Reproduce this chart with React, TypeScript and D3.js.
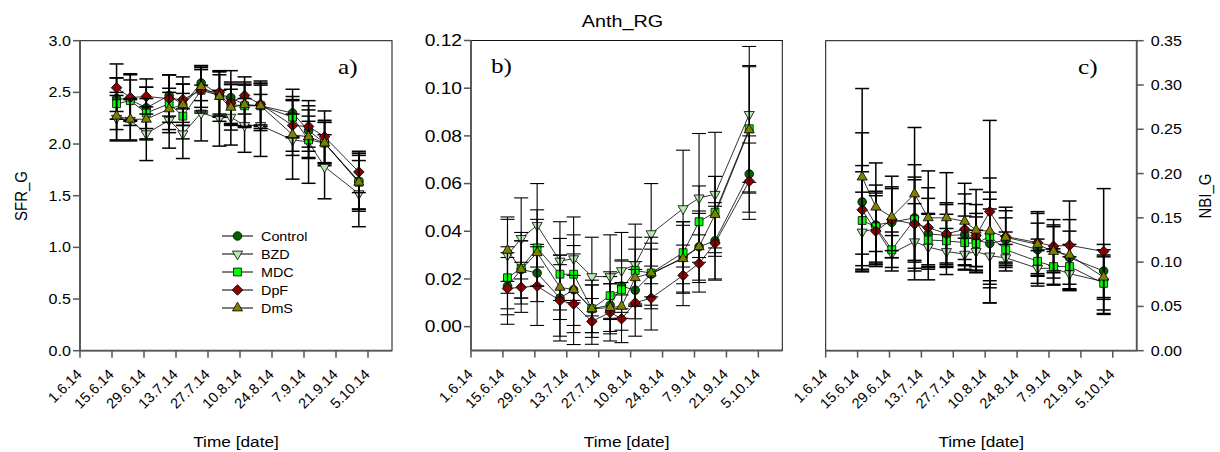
import React from 'react';
import * as d3 from 'd3';

// ---------- data ----------
const sampleDates = ['2014-06-17','2014-06-23','2014-06-30','2014-07-10','2014-07-16','2014-07-24','2014-08-01','2014-08-06','2014-08-12','2014-08-19','2014-09-02','2014-09-09','2014-09-16','2014-10-01'];
const tickDates = ['2014-06-01','2014-06-15','2014-06-29','2014-07-13','2014-07-27','2014-08-10','2014-08-24','2014-09-07','2014-09-21','2014-10-05'];
const tickLabels = ['1.6.14','15.6.14','29.6.14','13.7.14','27.7.14','10.8.14','24.8.14','7.9.14','21.9.14','5.10.14'];
const xDomain = ['2014-06-01T00:00','2014-10-15T12:00'];

const seriesNames = ['Control','BZD','MDC','DpF','DmS'];

// SFR_G (panel a)
const sfrControl = [2.44,2.43,2.35,2.47,2.38,2.59,2.48,2.45,2.38,2.37,2.30,2.13,2.01,1.64];
const sfrBZD     = [2.25,2.23,2.10,2.23,2.10,2.30,2.25,2.26,2.18,2.18,2.04,2.02,1.78,1.52];
const sfrMDC     = [2.39,2.42,2.30,2.39,2.27,2.52,2.47,2.38,2.37,2.37,2.26,2.04,2.01,1.63];
const sfrDpF     = [2.545,2.45,2.46,2.44,2.43,2.52,2.50,2.40,2.47,2.385,2.18,2.17,2.07,1.73];
const sfrDmS     = [2.27,2.24,2.24,2.34,2.38,2.555,2.46,2.355,2.38,2.37,2.09,2.07,2.01,1.63];
const sfrControlErr = [0.20,0.25,0.20,0.20,0.20,0.17,0.22,0.26,0.20,0.20,0.23,0.20,0.22,0.27];
const sfrBZDErr     = [0.22,0.20,0.26,0.27,0.24,0.27,0.27,0.27,0.26,0.30,0.38,0.40,0.31,0.32];
const sfrMDCErr     = [0.25,0.20,0.25,0.28,0.22,0.22,0.20,0.20,0.20,0.22,0.20,0.18,0.20,0.28];
const sfrDpFErr     = [0.23,0.22,0.17,0.23,0.22,0.20,0.21,0.20,0.18,0.20,0.25,0.20,0.25,0.20];
const sfrDmSErr     = [0.23,0.20,0.20,0.20,0.20,0.20,0.24,0.22,0.22,0.24,0.20,0.20,0.20,0.26];
const sfrTicks = [0,0.5,1,1.5,2,2.5,3];

// Anth_RG (panel b)
const anthControl = [0.017,0.024,0.0225,0.012,0.0155,0.0075,0.009,0.017,0.0153,0.022,0.029,0.0335,0.036,0.064];
const anthBZD     = [0.030,0.037,0.0425,0.0275,0.0285,0.021,0.021,0.0235,0.026,0.039,0.0495,0.054,0.0555,0.089];
const anthMDC     = [0.0205,0.0245,0.033,0.022,0.022,0.0075,0.013,0.0155,0.0235,0.0225,0.031,0.044,0.048,0.083];
const anthDpF     = [0.016,0.0165,0.017,0.011,0.0095,0.0022,0.006,0.0033,0.010,0.012,0.0215,0.0265,0.035,0.061];
const anthDmS     = [0.032,0.024,0.031,0.0165,0.0155,0.0075,0.008,0.0085,0.0205,0.0225,0.0285,0.0335,0.047,0.0825];
const anthControlErr = [0.012,0.012,0.012,0.018,0.015,0.010,0.012,0.011,0.012,0.013,0.015,0.015,0.016,0.016];
const anthBZDErr     = [0.016,0.017,0.0175,0.0165,0.0175,0.0165,0.0175,0.016,0.017,0.021,0.0245,0.027,0.026,0.0285];
const anthMDCErr     = [0.013,0.015,0.016,0.015,0.012,0.012,0.010,0.012,0.014,0.015,0.013,0.015,0.015,0.0265];
const anthDpFErr     = [0.015,0.0105,0.0165,0.015,0.012,0.0096,0.012,0.010,0.014,0.0134,0.0127,0.012,0.0155,0.016];
const anthDmSErr     = [0.013,0.012,0.014,0.0135,0.023,0.010,0.010,0.010,0.012,0.010,0.014,0.014,0.016,0.0265];
const anthTicks = [0,0.02,0.04,0.06,0.08,0.10,0.12];

// NBI_G (panel c)
const nbiControl = [0.168,0.142,0.145,0.150,0.132,0.130,0.131,0.125,0.121,0.125,0.114,0.115,0.105,0.090];
const nbiBZD     = [0.134,0.138,0.110,0.123,0.117,0.112,0.109,0.112,0.107,0.105,0.093,0.093,0.087,0.078];
const nbiMDC     = [0.147,0.140,0.114,0.148,0.125,0.124,0.122,0.121,0.129,0.114,0.101,0.095,0.095,0.076];
const nbiDpF     = [0.159,0.135,0.148,0.143,0.139,0.132,0.137,0.130,0.157,0.129,0.122,0.118,0.119,0.112];
const nbiDmS     = [0.196,0.162,0.151,0.177,0.150,0.150,0.146,0.136,0.135,0.128,0.120,0.112,0.108,0.083];
const nbiControlErr = [0.078,0.045,0.040,0.060,0.040,0.035,0.035,0.030,0.050,0.025,0.030,0.025,0.030,0.030];
const nbiBZDErr     = [0.045,0.040,0.020,0.043,0.037,0.026,0.018,0.024,0.053,0.015,0.020,0.019,0.019,0.036];
const nbiMDCErr     = [0.055,0.040,0.020,0.048,0.030,0.030,0.030,0.030,0.050,0.020,0.025,0.020,0.025,0.030];
const nbiDpFErr     = [0.050,0.040,0.035,0.050,0.045,0.035,0.040,0.035,0.103,0.033,0.035,0.030,0.050,0.071];
const nbiDmSErr     = [0.100,0.050,0.046,0.075,0.053,0.051,0.043,0.046,0.060,0.030,0.035,0.030,0.040,0.025];
const nbiTicks = [0,0.05,0.10,0.15,0.20,0.25,0.30,0.35];

// ---------- styles ----------
const seriesFill = ['#006400','#b9e9b3','#00ff00','#8b0000','#808000'];
const seriesShape = ['circle','triangleDown','square','diamond','triangleUp'];
const SANS = '"Liberation Sans", Arial, sans-serif';
const SERIF = '"Liberation Serif", "Times New Roman", serif';

const parseDay = d3.utcParse('%Y-%m-%d');
const parseDT = d3.utcParse('%Y-%m-%dT%H:%M');

function markerPath(shape: string) {
  if (shape === 'circle') return d3.symbol().type(d3.symbolCircle).size(Math.PI * 4.3 * 4.3)()!;
  if (shape === 'square') return d3.symbol().type(d3.symbolSquare).size(62)()!;
  if (shape === 'diamond') return d3.symbol().type(d3.symbolSquare).size(56)()!;
  return d3.symbol().type(d3.symbolTriangle).size(44)()!;
}
function markerRot(shape: string) {
  if (shape === 'diamond') return 45;
  if (shape === 'triangleDown') return 180;
  return 0;
}

function Marker({ x, y, i }: { x: number; y: number; i: number }) {
  const shape = seriesShape[i];
  return (
    <path d={markerPath(shape)} transform={`translate(${x},${y}) rotate(${markerRot(shape)})`}
      fill={seriesFill[i]} stroke="#000" strokeWidth={0.8} />
  );
}

function SText(props: any) {
  const { x, y, sx = 1.15, rot, size, family = SANS, anchor = 'middle', dy, children } = props;
  return (
    <text transform={`translate(${x},${y}) scale(${sx},1)${rot ? ` rotate(${rot})` : ''}`}
      fontSize={size} fontFamily={family} textAnchor={anchor} dy={dy} fill="#000">{children}</text>
  );
}

type Panel = {
  left: number; right: number; top: number; bottom: number;
  yDomain: [number, number]; yTicks: number[]; fmt: string; side: 'left' | 'right';
  values: number[][]; errs: number[][]; tickSize: number; tickSx: number;
  label: string; labelX: number; labelY: number; errW: number;
};

function PanelView({ p }: { p: Panel }) {
  const x = d3.scaleUtc().domain([parseDT(xDomain[0])!, parseDT(xDomain[1])!]).range([p.left, p.right]);
  const y = d3.scaleLinear().domain(p.yDomain).range([p.bottom, p.top]);
  const xs = sampleDates.map(d => x(parseDay(d)!));
  const f = d3.format(p.fmt);
  const axisX = p.side === 'left' ? p.left : p.right;
  const line = d3.line<number>().x((_, i) => xs[i]).y(v => y(v));
  const axisColor = '#555';
  return (
    <g>
      <rect x={p.left} y={p.top} width={p.right - p.left} height={p.bottom - p.top} fill="none" stroke="#111" strokeWidth={1} />
      <line x1={axisX} x2={axisX} y1={p.top} y2={p.bottom} stroke={axisColor} strokeWidth={1.8} />
      <line x1={p.left} x2={p.right} y1={p.bottom} y2={p.bottom} stroke={axisColor} strokeWidth={1.8} />
      {p.yTicks.map(t => {
        const ty = y(t);
        const dir = p.side === 'left' ? -1 : 1;
        return (
          <g key={'y' + t}>
            <line x1={axisX} x2={axisX + dir * 7} y1={ty} y2={ty} stroke={axisColor} strokeWidth={1.5} />
            <SText x={p.side === 'left' ? axisX - 9 : axisX + 14} y={ty} dy="0.36em" size={p.tickSize} sx={p.tickSx}
              anchor={p.side === 'left' ? 'end' : 'start'}>{f(t)}</SText>
          </g>
        );
      })}
      {tickDates.map((d, i) => {
        const tx = x(parseDay(d)!);
        return (
          <g key={'x' + d}>
            <line x1={tx} x2={tx} y1={p.bottom} y2={p.bottom + 7} stroke={axisColor} strokeWidth={1.5} />
            <text transform={`translate(${tx - 1},${p.bottom + 21}) rotate(-45)`} textAnchor="end" dy="0.35em"
              fontSize={14.5} fontFamily={SANS}>{tickLabels[i]}</text>
          </g>
        );
      })}
      {p.values.map((vals, si) => (
        <g key={'s' + si}>
          {vals.map((v, i) => {
            const e = p.errs[si][i];
            const y1 = y(v + e), y2 = y(v - e), cx = xs[i];
            return (
              <g key={i} stroke="#000" strokeWidth={p.errW}>
                <line x1={cx} x2={cx} y1={y1} y2={y2} />
                <line x1={cx - 7} x2={cx + 7} y1={y1} y2={y1} />
                <line x1={cx - 7} x2={cx + 7} y1={y2} y2={y2} />
              </g>
            );
          })}
          <path d={line(vals)!} fill="none" stroke="#000" strokeWidth={0.8} />
          {vals.map((v, i) => <Marker key={i} x={xs[i]} y={y(v)} i={si} />)}
        </g>
      ))}
      <SText x={p.labelX} y={p.labelY} size={21} family={SERIF} anchor="start" sx={1.2}>{p.label}</SText>
    </g>
  );
}

export default function App() {
  const panels: Panel[] = [
    {
      left: 80, right: 392, top: 40.7, bottom: 350.7, yDomain: [0, 3], yTicks: sfrTicks, fmt: '.1f', side: 'left',
      values: [sfrControl, sfrBZD, sfrMDC, sfrDpF, sfrDmS], errs: [sfrControlErr, sfrBZDErr, sfrMDCErr, sfrDpFErr, sfrDmSErr],
      tickSize: 14, tickSx: 1.15, label: 'a)', labelX: 338, labelY: 74, errW: 1.5,
    },
    {
      left: 471, right: 782.3, top: 40.5, bottom: 350.5, yDomain: [-0.01, 0.12], yTicks: anthTicks, fmt: '.2f', side: 'left',
      values: [anthControl, anthBZD, anthMDC, anthDpF, anthDmS], errs: [anthControlErr, anthBZDErr, anthMDCErr, anthDpFErr, anthDmSErr],
      tickSize: 16, tickSx: 1.2, label: 'b)', labelX: 491, labelY: 73, errW: 1.1,
    },
    {
      left: 825.7, right: 1136.7, top: 40.7, bottom: 350.7, yDomain: [0, 0.35], yTicks: nbiTicks, fmt: '.2f', side: 'right',
      values: [nbiControl, nbiBZD, nbiMDC, nbiDpF, nbiDmS], errs: [nbiControlErr, nbiBZDErr, nbiMDCErr, nbiDpFErr, nbiDmSErr],
      tickSize: 14, tickSx: 1.15, label: 'c)', labelX: 1078, labelY: 74, errW: 1.5,
    },
  ];
  const legendY = d3.scalePoint<string>().domain(seriesNames).range([236, 308]);
  return (
    <svg width={1220} height={452} style={{ position: 'absolute', left: 0, top: 0, background: '#fff' }}>
      {panels.map((p, i) => <PanelView key={i} p={p} />)}
      <SText x={622.5} y={26.5} size={16.5} sx={1.2}>Anth_RG</SText>
      {panels.map((p, i) => (
        <SText key={'t' + i} x={(p.left + p.right) / 2} y={447} size={15}>Time [date]</SText>
      ))}
      <SText x={27} y={196} size={15} rot={-90}>SFR_G</SText>
      <SText x={1210.5} y={196} size={15} rot={-90}>NBI_G</SText>
      {seriesNames.map((n, i) => {
        const ly = legendY(n)!;
        return (
          <g key={n}>
            <line x1={222} x2={253} y1={ly} y2={ly} stroke="#000" strokeWidth={1} />
            <Marker x={237.5} y={ly} i={i} />
            <SText x={261} y={ly} dy="0.36em" size={12.5} anchor="start">{n}</SText>
          </g>
        );
      })}
    </svg>
  );
}
